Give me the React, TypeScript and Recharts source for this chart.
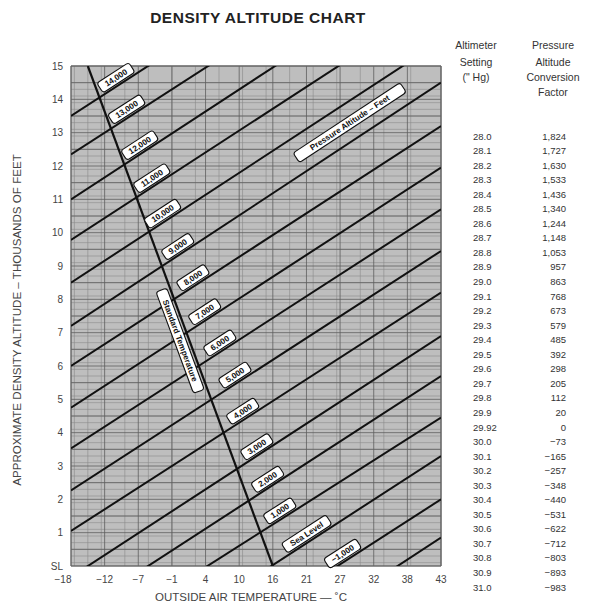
import React from 'react';
import { LineChart, Line, XAxis, YAxis, CartesianGrid, ReferenceDot, ReferenceArea } from 'recharts';

const W = 593;
const H = 603;
const FONT = '"Liberation Sans", Arial, Helvetica, sans-serif';

// plot box (pixels) - margins are chosen so that the plot sits here
const PLOT_L = 71;
const PLOT_T = 66;
const PLOT_W = 370;
const PLOT_H = 500;

// x axis runs in °F (0..110) but is labelled in °C
const TEMP_F_TICKS = [0, 10, 20, 30, 40, 50, 60, 70, 80, 90, 100, 110];
const TEMP_C_LABELS = ['−18', '−12', '−7', '−1', '4', '10', '16', '21', '27', '32', '38', '43'];

// y axis: density altitude in thousands of feet
const ALT_TICKS = [0, 1, 2, 3, 4, 5, 6, 7, 8, 9, 10, 11, 12, 13, 14, 15];
const ALT_LABELS = ['SL', '1', '2', '3', '4', '5', '6', '7', '8', '9', '10', '11', '12', '13', '14', '15'];

const PRESSURE_ALT = [14000, 13000, 12000, 11000, 10000, 9000, 8000, 7000, 6000, 5000, 4000, 3000, 2000, 1000, 0, -1000, -2000];
const DA_AT_0F = [13.5, 12.35, 11.0, 9.78, 8.5, 7.2, 6.0, 4.75, 3.53, 2.27, 1.05, -0.33, -1.5, -2.6, -3.9, -5.15, -6.4];
const DA_AT_110F = [20.7, 19.5, 18.25, 17.0, 15.75, 14.5, 13.2, 11.95, 10.7, 9.45, 8.2, 6.9, 5.7, 4.45, 3.3, 2.0, 0.85];
const LINE_LABELS = ['14,000', '13,000', '12,000', '11,000', '10,000', '9,000', '8,000', '7,000', '6,000', '5,000', '4,000', '3,000', '2,000', '1,000', 'Sea Level', '−1,000', ''];
const LABEL_AT_F = [14.6, 17.8, 21.7, 25.3, 28.5, 33, 37.5, 41, 45.5, 50, 52.3, 56.5, 59.7, 63.3, 71.3, 82, null];

// standard temperature line
const STD_TEMP_F = [60, 5];
const STD_TEMP_ALT = [0, 15];

// altimeter setting table
const SETTINGS = ['28.0', '28.1', '28.2', '28.3', '28.4', '28.5', '28.6', '28.7', '28.8', '28.9', '29.0', '29.1', '29.2', '29.3', '29.4', '29.5', '29.6', '29.7', '29.8', '29.9', '29.92', '30.0', '30.1', '30.2', '30.3', '30.4', '30.5', '30.6', '30.7', '30.8', '30.9', '31.0'];
const FACTORS = ['1,824', '1,727', '1,630', '1,533', '1,436', '1,340', '1,244', '1,148', '1,053', '957', '863', '768', '673', '579', '485', '392', '298', '205', '112', '20', '0', '−73', '−165', '−257', '−348', '−440', '−531', '−622', '−712', '−803', '−893', '−983'];

const pxPerF = PLOT_W / 110;
const pxPerK = PLOT_H / 15;

const range = (a: number, b: number, step: number) => {
  const out: number[] = [];
  for (let v = a; v <= b + 1e-9; v += step) out.push(Math.round(v * 100) / 100);
  return out;
};
const FINE_X = range(0, 110, 1);
const FINE_Y = range(0, 15, 0.1);
const MID_X = range(0, 110, 5);
const MID_Y = range(0, 15, 0.5);

const Tag = ({ cx, cy, text, angle, below, gap = 2 }: { cx: number; cy: number; text: string; angle: number; below?: boolean; gap?: number }) => {
  const w = text.length * 5 + 8;
  const h = 11.5;
  const y0 = below ? gap : -h - gap;
  return (
    <g transform={`translate(${cx},${cy}) rotate(${angle})`}>
      <rect x={-w / 2} y={y0} width={w} height={h} rx={3} fill="#fff" stroke="#111" strokeWidth={1.1} />
      <text x={0} y={y0 + 8.6} textAnchor="middle" fontSize={8.2} fontWeight="bold" fill="#111" fontFamily={FONT}>
        {text}
      </text>
    </g>
  );
};

const XTick = (props: any) => {
  const { x, y, payload, index } = props;
  return (
    <text x={x + (index === 0 ? -8 : 0)} y={y + 9} textAnchor="middle" fontSize={10} fill="#444" fontFamily={FONT}>
      {TEMP_C_LABELS[TEMP_F_TICKS.indexOf(payload.value)]}
    </text>
  );
};

export default function App() {
  const lines = PRESSURE_ALT.map((pa, i) => ({
    pa,
    data: [
      { t: 0, da: DA_AT_0F[i] },
      { t: 110, da: DA_AT_110F[i] },
    ],
  }));
  const stdData = STD_TEMP_F.map((t, i) => ({ t, da: STD_TEMP_ALT[i] }));

  const angleOf = (i: number) =>
    (-Math.atan(((DA_AT_110F[i] - DA_AT_0F[i]) * pxPerK) / (110 * pxPerF)) * 180) / Math.PI;
  const daOn = (i: number, t: number) => DA_AT_0F[i] + ((DA_AT_110F[i] - DA_AT_0F[i]) * t) / 110;

  const stdAngle =
    (Math.atan2((STD_TEMP_ALT[1] - STD_TEMP_ALT[0]) * pxPerK, (STD_TEMP_F[0] - STD_TEMP_F[1]) * pxPerF) * 180) / Math.PI;
  const stdLabelDa = 6.85;
  const stdLabelT = STD_TEMP_F[0] + ((STD_TEMP_F[1] - STD_TEMP_F[0]) * stdLabelDa) / STD_TEMP_ALT[1];

  const paIdx = PRESSURE_ALT.indexOf(9000);
  const paLabelT = 85.6;

  return (
    <div style={{ position: 'absolute', left: 0, top: 0, width: W, height: H, background: '#fff', fontFamily: FONT }}>
      <LineChart
        width={W}
        height={H}
        margin={{ top: PLOT_T, right: W - PLOT_L - PLOT_W, bottom: H - PLOT_T - PLOT_H - 20, left: PLOT_L - 30 }}
      >
        <CartesianGrid fill="#bebebe" stroke="#8a8a8a" strokeWidth={0.6} verticalValues={FINE_X} horizontalValues={FINE_Y} />
        <CartesianGrid stroke="#5e5e5e" strokeWidth={0.8} verticalValues={MID_X} horizontalValues={MID_Y} />
        <XAxis
          type="number"
          dataKey="t"
          domain={[0, 110]}
          ticks={TEMP_F_TICKS}
          tick={<XTick />}
          tickLine={false}
          axisLine={false}
          height={20}
          allowDataOverflow
        />
        <YAxis
          type="number"
          dataKey="da"
          domain={[0, 15]}
          ticks={ALT_TICKS}
          tickFormatter={(v: number) => ALT_LABELS[ALT_TICKS.indexOf(v)]}
          tick={{ fontSize: 10, fill: '#444', fontFamily: FONT }}
          tickLine={false}
          axisLine={false}
          width={30}
          allowDataOverflow
        />
        <ReferenceArea x1={0} x2={110} y1={0} y2={15} fill="none" stroke="#666" strokeWidth={1} ifOverflow="visible" />
        {lines.map((l) => (
          <Line
            key={l.pa}
            data={l.data}
            dataKey="da"
            stroke="#111"
            strokeWidth={2}
            dot={false}
            activeDot={false}
            isAnimationActive={false}
          />
        ))}
        <Line
          data={stdData}
          dataKey="da"
          stroke="#111"
          strokeWidth={2.2}
          dot={false}
          activeDot={false}
          isAnimationActive={false}
        />
        {LINE_LABELS.map((txt, i) =>
          txt && LABEL_AT_F[i] != null ? (
            <ReferenceDot
              key={'lbl' + i}
              x={LABEL_AT_F[i] as number}
              y={daOn(i, LABEL_AT_F[i] as number)}
              r={0}
              ifOverflow="visible"
              shape={(p: any) => <Tag cx={p.cx} cy={p.cy} text={txt} angle={angleOf(i)} />}
            />
          ) : null
        )}
        <ReferenceDot
          x={paLabelT}
          y={daOn(paIdx, paLabelT)}
          r={0}
          ifOverflow="visible"
          shape={(p: any) => <Tag cx={p.cx} cy={p.cy} text="Pressure Altitude – Feet" angle={angleOf(paIdx)} gap={11} />}
        />
        <ReferenceDot
          x={stdLabelT}
          y={stdLabelDa}
          r={0}
          ifOverflow="visible"
          shape={(p: any) => <Tag cx={p.cx} cy={p.cy} text="Standard Temperature" angle={stdAngle} below gap={3} />}
        />
      </LineChart>

      <svg width={W} height={H} style={{ position: 'absolute', left: 0, top: 0, pointerEvents: 'none' }} fontFamily={FONT}>
        <text x={258} y={23} textAnchor="middle" fontSize={15.5} fontWeight="bold" fill="#222" letterSpacing={0.5}>
          DENSITY ALTITUDE CHART
        </text>
        <text transform="translate(21,320) rotate(-90)" textAnchor="middle" fontSize={11.6} fill="#444">
          APPROXIMATE DENSITY ALTITUDE – THOUSANDS OF FEET
        </text>
        <text x={251} y={601} textAnchor="middle" fontSize={11.5} fill="#444">
          OUTSIDE AIR TEMPERATURE — ˚C
        </text>

        <g fontSize={10.5} fill="#333" textAnchor="middle">
          <text x={476} y={49}>Altimeter</text>
          <text x={476} y={66}>Setting</text>
          <text x={476} y={81}>(" Hg)</text>
          <text x={553} y={49}>Pressure</text>
          <text x={553} y={66}>Altitude</text>
          <text x={553} y={81}>Conversion</text>
          <text x={553} y={96}>Factor</text>
        </g>
        <g fontSize={9.5} fill="#333">
          {SETTINGS.map((s, i) => (
            <text key={s} x={473} y={139.5 + i * 14.55}>
              {s}
            </text>
          ))}
          {FACTORS.map((f, i) => (
            <text key={'f' + i} x={566} y={139.5 + i * 14.55} textAnchor="end">
              {f}
            </text>
          ))}
        </g>
      </svg>
    </div>
  );
}
